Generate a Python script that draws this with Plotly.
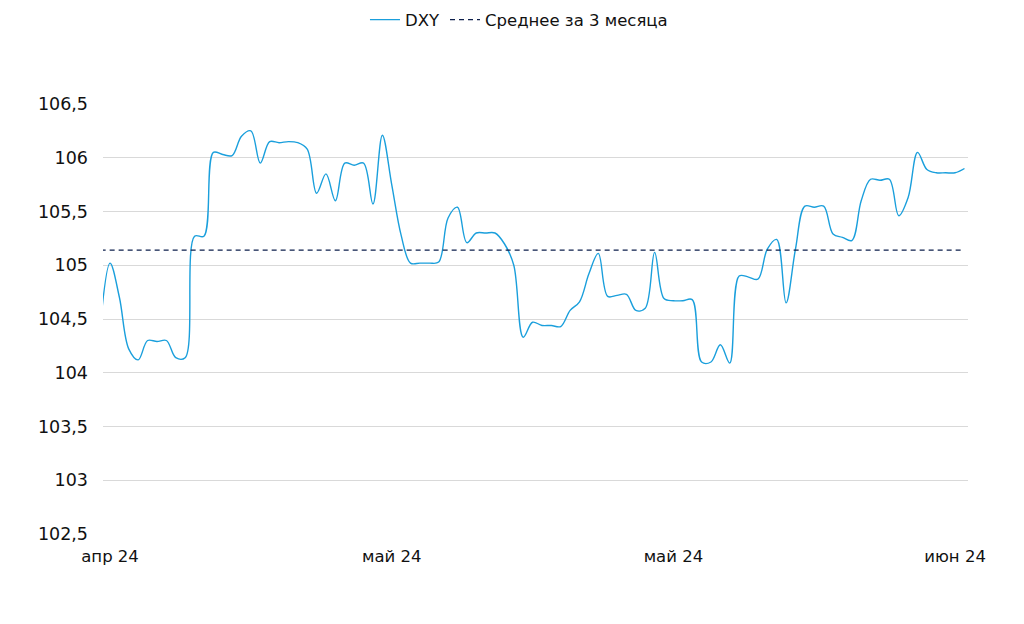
import pandas as pd
import plotly.graph_objects as go

# Daily DXY values (weekends carried forward), 31 Mar 2024 – 1 Jul 2024
dates = pd.date_range("2024-03-31", "2024-07-01", freq="D")
dxy = [
    104.47,                                     # Mar 31
    105.02, 104.70, 104.22, 104.12, 104.30, 104.29, 104.30,   # Apr 1-7
    104.14, 104.14, 105.27, 105.27, 106.05, 106.03, 106.02,   # Apr 8-14
    106.20, 106.25, 105.95, 106.15, 106.14, 106.15, 106.14,   # Apr 15-21
    106.08, 105.67, 105.85, 105.60, 105.95, 105.93, 105.95,   # Apr 22-28
    105.57, 106.21, 105.75, 105.28, 105.02, 105.02, 105.02,   # Apr 29-May 5
    105.03, 105.44, 105.54, 105.21, 105.30, 105.30, 105.30,   # May 6-12
    105.20, 105.00, 104.33, 104.47, 104.44, 104.44, 104.43,   # May 13-19
    104.58, 104.66, 104.92, 105.11, 104.71, 104.72, 104.73,   # May 20-26
    104.58, 104.60, 105.12, 104.69, 104.67, 104.67, 104.68,   # May 27-Jun 2
    104.10, 104.10, 104.26, 104.09, 104.90, 104.89, 104.87,   # Jun 3-9
    105.15, 105.24, 104.65, 105.15, 105.55, 105.54, 105.55,   # Jun 10-16
    105.29, 105.26, 105.23, 105.60, 105.80, 105.79, 105.80,   # Jun 17-23
    105.46, 105.63, 106.05, 105.89, 105.86, 105.86, 105.86,   # Jun 24-30
    105.90,                                     # Jul 1
]
avg_3m = 105.14

x_tick_dates = ["2024-04-01", "2024-05-01", "2024-05-31", "2024-06-30"]
x_tick_labels = ["апр 24", "май 24", "май 24", "июн 24"]
y_tick_vals = [102.5, 103, 103.5, 104, 104.5, 105, 105.5, 106, 106.5]
y_tick_labels = ["102,5", "103", "103,5", "104", "104,5", "105", "105,5", "106", "106,5"]

FONT = "Verdana, DejaVu Sans, sans-serif"

fig = go.Figure()
fig.add_trace(go.Scatter(
    x=dates, y=dxy, name="DXY", mode="lines",
    line=dict(color="#1a9fdc", width=1.4, shape="spline", smoothing=1.0),
    hoverinfo="skip",
))
fig.add_trace(go.Scatter(
    x=dates, y=[avg_3m] * len(dates), name="Среднее за 3 месяца", mode="lines",
    line=dict(color="#0d1f4c", width=1.2, dash="5px,4px"),
    hoverinfo="skip",
))

fig.update_layout(
    width=1024, height=624,
    paper_bgcolor="white", plot_bgcolor="white",
    margin=dict(l=95, r=64, t=96, b=98),
    font=dict(family=FONT, size=16.5, color="#111111"),
    showlegend=True,
    legend=dict(orientation="h", xref="container", yref="container",
                x=0.499, xanchor="center", y=0.981, yanchor="middle",
                font=dict(family=FONT, size=16.5, color="#111111"),
                bgcolor="rgba(0,0,0,0)"),
    xaxis=dict(
        type="date",
        range=["2024-03-31 06:00", "2024-07-01 09:00"],
        tickvals=x_tick_dates, ticktext=x_tick_labels,
        showgrid=False, zeroline=False, showline=False,
        ticks="", ticklabelstandoff=10,
        tickfont=dict(family=FONT, size=16.5, color="#111111"),
    ),
    yaxis=dict(
        range=[102.5, 106.5],
        tickvals=y_tick_vals, ticktext=y_tick_labels,
        showgrid=True, gridcolor="#d9d9d9", gridwidth=1,
        zeroline=False, showline=False, ticks="",
        ticklabelstandoff=14,
        tickfont=dict(family=FONT, size=17.5, color="#111111"),
    ),
)

fig.write_html("out.html")
